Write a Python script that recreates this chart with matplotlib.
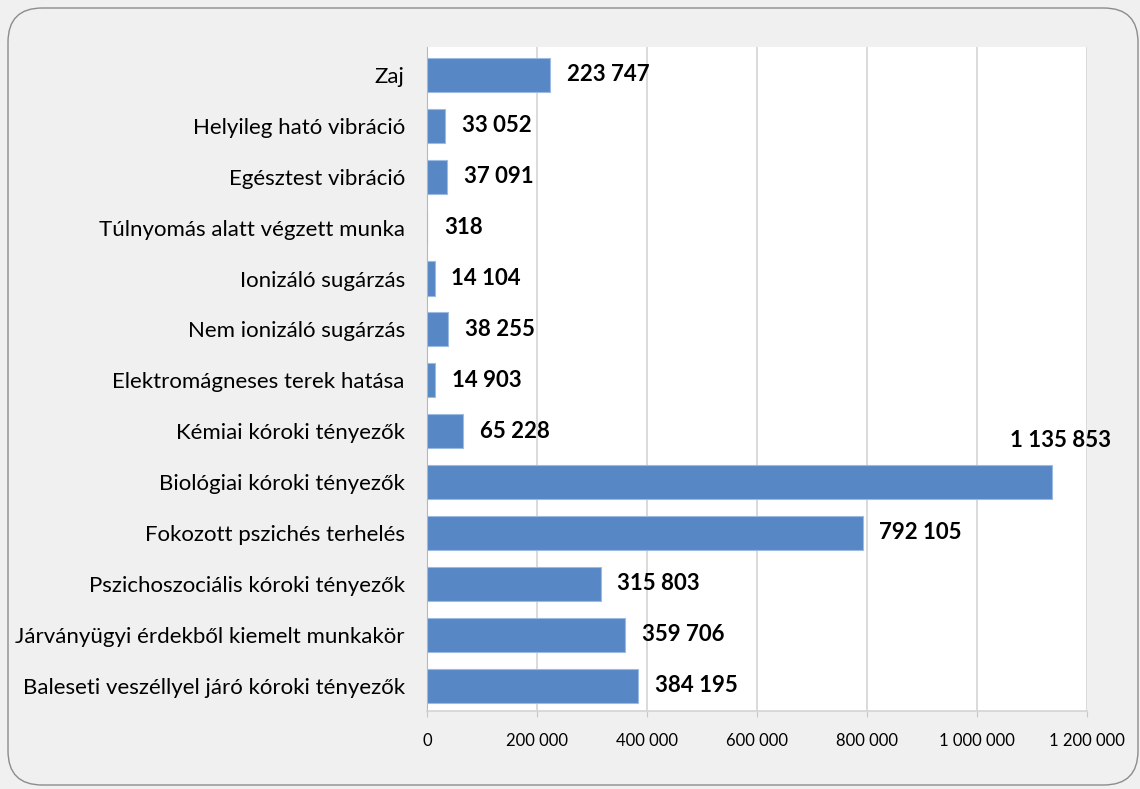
import matplotlib.pyplot as plt
from matplotlib.patches import FancyBboxPatch
from matplotlib.ticker import FuncFormatter

categories = [
    "Zaj",
    "Helyileg ható vibráció",
    "Egésztest vibráció",
    "Túlnyomás alatt végzett munka",
    "Ionizáló sugárzás",
    "Nem ionizáló sugárzás",
    "Elektromágneses terek hatása",
    "Kémiai kóroki tényezők",
    "Biológiai kóroki tényezők",
    "Fokozott pszichés terhelés",
    "Pszichoszociális kóroki tényezők",
    "Járványügyi érdekből kiemelt munkakör",
    "Baleseti veszéllyel járó kóroki tényezők",
]
values = [223747, 33052, 37091, 318, 14104, 38255, 14903, 65228,
          1135853, 792105, 315803, 359706, 384195]
x_ticks = [0, 200000, 400000, 600000, 800000, 1000000, 1200000]


def fmt(v):
    return f"{v:,}".replace(",", " ")


plt.rcParams['font.family'] = ['Lato', 'DejaVu Sans']

fig = plt.figure(figsize=(11.4, 7.89), dpi=100)
fig.patch.set_facecolor('#f0f0f0')

# rounded frame around the whole chart
frame = FancyBboxPatch((8 / 1140, 4 / 789), 1130 / 1140, 777 / 789,
                       boxstyle="round,pad=0,rounding_size=0.03",
                       transform=fig.transFigure, facecolor='none',
                       edgecolor='#8c8c8c', linewidth=1.0, mutation_aspect=1140 / 789)
fig.patches.append(frame)

ax = fig.add_axes([427 / 1140, 1 - 711 / 789, 660 / 1140, 664 / 789])
ax.set_facecolor('white')

ypos = list(range(len(categories)))
ax.barh(ypos, values, height=0.67, color='#5787c5', edgecolor='#9dbbe2', linewidth=0.8, zorder=3)

for i, v in enumerate(values):
    if v > 1000000:
        ax.annotate(fmt(v), (v, i), xytext=(6, 30), textcoords='offset points',
                    ha='center', va='center', fontsize=16, fontweight='bold')
    else:
        ax.annotate(fmt(v), (v, i), xytext=(12, 0), textcoords='offset points',
                    ha='left', va='center', fontsize=16, fontweight='bold')

ax.set_yticks(ypos)
ax.set_yticklabels(categories, fontsize=16)
ax.set_ylim(12.5, -0.55)
ax.set_xlim(0, 1200000)
ax.set_xticks(x_ticks)
ax.xaxis.set_major_formatter(FuncFormatter(lambda v, p: fmt(int(v))))
ax.tick_params(axis='x', labelsize=12, length=4, color='#c8c8c8', pad=12)
ax.tick_params(axis='y', length=0, pad=16)

ax.grid(axis='x', color='#d4d4d4', linewidth=1.2, zorder=0)
for s in ['top', 'right']:
    ax.spines[s].set_visible(False)
ax.spines['left'].set_color('#b8b8b8')
ax.spines['bottom'].set_color('#d4d4d4')
ax.spines['bottom'].set_linewidth(1.2)

fig.savefig('out.png', dpi=100, facecolor=fig.get_facecolor())
